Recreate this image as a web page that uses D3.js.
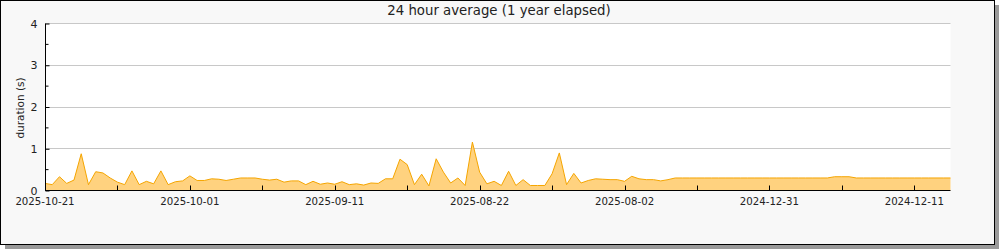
<!DOCTYPE html>
<html>
<head>
<meta charset="utf-8">
<script src="https://cdn.jsdelivr.net/npm/d3@7"></script>
<style>
  body { margin: 0; background: #fff; }
  text { font-family: "DejaVu Sans", sans-serif; fill: #222; }
</style>
</head>
<body>
<div id="chart"></div>
<script>
// one value per day, newest first (seconds)
var durations = [
    0.17, 0.14, 0.33, 0.17, 0.25, 0.88, 0.14, 0.45, 0.42, 0.30,
    0.20, 0.14, 0.47, 0.14, 0.22, 0.16, 0.47, 0.14, 0.21, 0.23,
    0.35, 0.24, 0.24, 0.28, 0.27, 0.24, 0.27, 0.30, 0.30, 0.30,
    0.27, 0.25, 0.27, 0.20, 0.23, 0.23, 0.14, 0.22, 0.15, 0.18,
    0.15, 0.21, 0.14, 0.16, 0.13, 0.18, 0.17, 0.28, 0.28, 0.75,
    0.62, 0.14, 0.39, 0.11, 0.76, 0.44, 0.18, 0.30, 0.12, 1.16,
    0.44, 0.16, 0.22, 0.12, 0.46, 0.12, 0.26, 0.12, 0.12, 0.12,
    0.40, 0.90, 0.14, 0.41, 0.18, 0.24, 0.28, 0.27, 0.26, 0.26,
    0.22, 0.34, 0.28, 0.26, 0.26, 0.23, 0.26, 0.30, 0.30, 0.30,
    0.30, 0.30, 0.30, 0.30, 0.30, 0.30, 0.30, 0.30, 0.30, 0.30,
    0.30, 0.30, 0.30, 0.30, 0.30, 0.30, 0.30, 0.30, 0.30, 0.33,
    0.33, 0.33, 0.30, 0.30, 0.30, 0.30, 0.30, 0.30, 0.30, 0.30,
    0.30, 0.30, 0.30, 0.30, 0.30, 0.30
];
var xTickIdx = [0, 10, 20, 30, 40, 50, 60, 70, 80, 90, 100, 110, 120];
var xLabelIdx = [0, 20, 40, 60, 80, 100, 120];
var xLabels = ["2025-10-21", "2025-10-01", "2025-09-11", "2025-08-22", "2025-08-02", "2024-12-31", "2024-12-11"];
var yTicks = [0, 1, 2, 3, 4];
var yMinor = [0.5, 1.5, 2.5, 3.5];
var title = "24 hour average (1 year elapsed)";
var yTitle = "duration (s)";

var W = 1000, H = 250;
var plotL = 45, plotR = 950.5, plotT = 23.5, plotB = 190.5;

var svg = d3.select("#chart").append("svg")
    .attr("width", W).attr("height", H);

// panel + shadow
svg.append("rect").attr("x", 5).attr("y", 5).attr("width", 994).attr("height", 244)
    .style("fill", "#9a9a9a");
svg.append("rect").attr("x", 0.5).attr("y", 0.5).attr("width", 994).attr("height", 244)
    .style("fill", "#f8f8f8").style("stroke", "#000").style("stroke-width", 1);

var x = d3.scaleLinear().domain([0, durations.length - 1]).range([plotL, plotR]);
var y = d3.scaleLinear().domain([0, 4]).range([plotB, plotT]);

svg.append("rect").attr("x", plotL).attr("y", plotT).attr("width", plotR - plotL).attr("height", plotB - plotT)
    .style("fill", "#fff");

// grid
svg.append("g").selectAll("line").data(yTicks.slice(1)).enter().append("line")
    .attr("x1", plotL).attr("x2", plotR)
    .attr("y1", function(d) { return Math.floor(y(d)) + 0.5; })
    .attr("y2", function(d) { return Math.floor(y(d)) + 0.5; })
    .style("stroke", "#c8c8c8").style("stroke-width", 1);

var area = d3.area()
    .x(function(d, i) { return x(i); })
    .y0(y(0))
    .y1(function(d) { return y(d); });
var line = d3.line()
    .x(function(d, i) { return x(i); })
    .y(function(d) { return y(d); });

svg.append("path").datum(durations).attr("d", area).style("fill", "#ffd27f");
svg.append("path").datum(durations).attr("d", line)
    .style("fill", "none").style("stroke", "#f5a500").style("stroke-width", 1);

// y axis
var yAxis = d3.axisLeft(y).tickValues(yTicks).tickSize(-4).tickPadding(8).tickFormat(d3.format("d"));
var gy = svg.append("g").attr("transform", "translate(" + (plotL + 0.5) + ",0)").call(yAxis);
gy.selectAll(".tick line").attr("stroke", "#000");
gy.select(".domain").remove();
gy.selectAll("text").style("font-size", "11px").style("fill", "#222");
gy.append("g").selectAll("line").data(yMinor).enter().append("line")
    .attr("x1", 0).attr("x2", 3)
    .attr("y1", function(d) { return y(d); }).attr("y2", function(d) { return y(d); })
    .style("stroke", "#000");
svg.append("line").attr("x1", plotL + 0.5).attr("x2", plotL + 0.5).attr("y1", plotT).attr("y2", plotB)
    .style("stroke", "#000");

// x axis
var gx = svg.append("g").attr("transform", "translate(0," + plotB + ")");
gx.append("line").attr("x1", plotL).attr("x2", plotR).attr("y1", 0).attr("y2", 0).style("stroke", "#000");
gx.selectAll(".xt").data(xTickIdx).enter().append("line")
    .attr("class", "xt")
    .attr("x1", function(d) { return Math.round(x(d)) + 0.5; })
    .attr("x2", function(d) { return Math.round(x(d)) + 0.5; })
    .attr("y1", 0).attr("y2", -5)
    .style("stroke", "#000");
gx.selectAll(".xl").data(xLabelIdx).enter().append("text")
    .attr("class", "xl")
    .attr("x", function(d) { return x(d); })
    .attr("y", 14)
    .attr("text-anchor", "middle")
    .style("font-size", "10.2px")
    .text(function(d, i) { return xLabels[i]; });

// titles
svg.append("text").attr("x", 499).attr("y", 15).attr("text-anchor", "middle")
    .style("font-size", "13.3px").text(title);
svg.append("text").attr("transform", "translate(24,108) rotate(-90)")
    .attr("text-anchor", "middle").style("font-size", "10.5px").text(yTitle);
</script>
</body>
</html>
